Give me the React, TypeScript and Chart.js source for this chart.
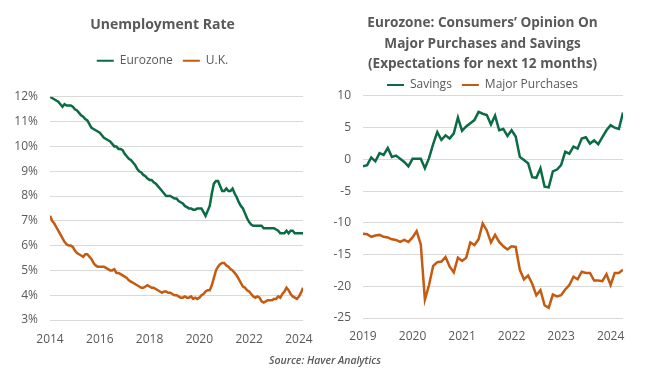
import React, { useEffect, useRef } from "react";
import { Chart, registerables } from "chart.js";

Chart.register(...registerables);

// ---------- Data ----------
// Unemployment rate, monthly Jan 2014 .. Mar 2024 (%)
const unempStartYear = 2014;
const eurozoneUnemp = [
  12.0, 11.95, 11.9, 11.85, 11.8, 11.7, 11.6, 11.7, 11.65, 11.65, 11.65, 11.6,
  11.5, 11.45, 11.35, 11.25, 11.2, 11.1, 11.05, 10.9, 10.75, 10.7, 10.65, 10.6,
  10.55, 10.45, 10.35, 10.3, 10.25, 10.2, 10.1, 10.0, 10.0, 9.9, 9.9, 9.85,
  9.7, 9.6, 9.5, 9.45, 9.35, 9.25, 9.1, 9.0, 8.95, 8.85, 8.8, 8.7,
  8.65, 8.65, 8.55, 8.5, 8.4, 8.3, 8.2, 8.1, 8.0, 8.0, 8.0, 7.95,
  7.9, 7.9, 7.8, 7.75, 7.7, 7.6, 7.55, 7.5, 7.5, 7.45, 7.45, 7.5,
  7.5, 7.5, 7.35, 7.2, 7.4, 7.6, 8.1, 8.5, 8.6, 8.6, 8.4, 8.2,
  8.2, 8.3, 8.2, 8.2, 8.3, 8.1, 7.95, 7.75, 7.6, 7.5, 7.3, 7.1,
  6.95, 6.85, 6.8, 6.8, 6.8, 6.8, 6.8, 6.7, 6.7, 6.7, 6.7, 6.7,
  6.7, 6.65, 6.6, 6.5, 6.5, 6.5, 6.6, 6.5, 6.6, 6.6, 6.5, 6.5,
  6.5, 6.5, 6.5,
];
const ukUnemp = [
  7.2, 7.0, 6.9, 6.75, 6.6, 6.45, 6.3, 6.15, 6.05, 6.0, 6.0, 5.95,
  5.8, 5.7, 5.65, 5.6, 5.55, 5.65, 5.65, 5.55, 5.45, 5.3, 5.2, 5.15,
  5.15, 5.15, 5.15, 5.1, 5.05, 5.0, 5.0, 5.05, 4.9, 4.9, 4.85, 4.8,
  4.75, 4.7, 4.6, 4.55, 4.5, 4.45, 4.4, 4.35, 4.3, 4.3, 4.35, 4.4,
  4.35, 4.3, 4.3, 4.25, 4.2, 4.15, 4.1, 4.15, 4.15, 4.1, 4.1, 4.05,
  4.0, 4.0, 3.95, 3.9, 3.9, 3.95, 3.9, 3.9, 3.95, 3.85, 3.9, 3.85,
  3.9, 4.0, 4.05, 4.15, 4.2, 4.2, 4.4, 4.7, 5.0, 5.15, 5.25, 5.3,
  5.3, 5.2, 5.15, 5.05, 5.0, 4.9, 4.8, 4.65, 4.5, 4.35, 4.3, 4.2,
  4.15, 4.05, 3.95, 3.9, 3.95, 3.9, 3.75, 3.7, 3.75, 3.8, 3.8, 3.8,
  3.85, 3.85, 3.95, 3.9, 4.05, 4.15, 4.3, 4.2, 4.05, 3.95, 3.9, 3.85,
  3.95, 4.1, 4.3,
];
const unempYearTicks = [2014, 2016, 2018, 2020, 2022, 2024];
const unempPctTicks = [3, 4, 5, 6, 7, 8, 9, 10, 11, 12];

// Consumers' opinion, monthly Jan 2019 .. Apr 2024 (balance)
const opinionStartYear = 2019;
const savings = [
  -1.1, -0.9, 0.3, -0.3, 1.0, 0.7, 1.8, 0.4, 0.6, 0.1, -0.4, -1.1,
  0.1, 0.1, 0.1, -1.4, 0.2, 2.4, 4.3, 3.1, 3.8, 3.3, 4.1, 6.6,
  4.5, 5.2, 5.7, 6.2, 7.5, 7.2, 7.0, 5.5, 6.9, 4.6, 4.8, 3.7,
  4.6, 3.6, 0.4, -0.1, -0.6, -2.8, -2.9, -1.4, -4.3, -4.4, -1.9, -1.6,
  -0.9, 1.2, 0.9, 2.0, 1.7, 3.3, 3.5, 2.5, 3.0, 2.4, 3.5, 4.6,
  5.4, 5.0, 4.8, 7.4,
];
const majorPurchases = [
  -11.7, -11.8, -12.2, -12.0, -11.9, -12.2, -12.3, -12.6, -12.7, -13.0, -12.7, -13.0,
  -12.3, -11.3, -13.4, -22.1, -19.8, -16.8, -16.2, -16.1, -15.4, -16.9, -17.8, -15.5,
  -16.0, -15.5, -13.1, -13.5, -12.6, -10.1, -11.2, -13.1, -11.9, -13.0, -13.7, -14.2,
  -13.7, -13.8, -17.4, -18.9, -18.3, -19.6, -21.4, -20.6, -23.0, -23.4, -21.3, -21.6,
  -21.4, -20.5, -19.8, -18.5, -18.9, -17.7, -17.9, -17.9, -19.1, -19.1, -19.2, -18.1,
  -19.8, -17.9, -17.9, -17.4,
];
const opinionYearTicks = [2019, 2020, 2021, 2022, 2023, 2024];

const GREEN = "#0B6B45";
const ORANGE = "#C55A11";
const TEXT = "#595959";
const GRID = "#D9D9D9";
const FONT = "'Open Sans', 'DejaVu Sans', sans-serif";

const toPoints = (start: number, vals: number[]) =>
  vals.map((v, i) => ({ x: start + i / 12, y: v }));

const legendGap = {
  id: "legendGap",
  afterInit(chart: any, _a: any, opts: any) {
    const lg = chart.legend;
    if (!lg) return;
    const orig = lg.fit.bind(lg);
    lg.fit = () => {
      orig();
      lg.height += opts.extra || 0;
    };
  },
};

function makeOptions(cfg: {
  title: string | string[];
  titleSize: number;
  titlePad: { top: number; bottom: number };
  titleLineHeight: number;
  legendExtra: number;
  xMin: number;
  xMax: number;
  xTicks: number[];
  yMin: number;
  yMax: number;
  yStep: number;
  yFmt: (v: number) => string;
  yWidth: number;
  padding: { left: number; right: number; top: number; bottom: number };
  xPad: number;
}) {
  return {
    responsive: false,
    animation: false as const,
    layout: { padding: cfg.padding },
    elements: { point: { radius: 0 }, line: { tension: 0 } },
    plugins: {
      title: {
        display: true,
        text: cfg.title,
        color: TEXT,
        font: { family: FONT, size: cfg.titleSize, weight: "bold" as const, lineHeight: cfg.titleLineHeight },
        padding: cfg.titlePad,
      },
      legend: {
        display: true,
        position: "top" as const,
        labels: {
          color: TEXT,
          font: { family: FONT, size: 12, weight: "500" as any },
          boxWidth: 17,
          boxHeight: 2,
          padding: 10,
          generateLabels: (chart: any) =>
            Chart.defaults.plugins.legend.labels
              .generateLabels(chart)
              .map((l: any) => ({ ...l, lineWidth: 0 })),
        },
      },
      legendGap: { extra: cfg.legendExtra },
      tooltip: { enabled: false },
    },
    scales: {
      x: {
        type: "linear" as const,
        min: cfg.xMin,
        max: cfg.xMax,
        grid: { display: false, drawTicks: false },
        border: { display: false },
        afterBuildTicks: (scale: any) => {
          scale.ticks = cfg.xTicks.map((v) => ({ value: v }));
        },
        ticks: {
          color: TEXT,
          font: { family: FONT, size: 12, weight: "500" as any },
          padding: cfg.xPad,
          maxRotation: 0,
          autoSkip: false,
          callback: (v: any) => String(v),
        },
      },
      y: {
        type: "linear" as const,
        min: cfg.yMin,
        max: cfg.yMax,
        afterFit: (scale: any) => {
          scale.width = cfg.yWidth;
          // let the tick labels extend into the layout padding
          scale._computeLabelArea = () => undefined;
        },
        grid: { color: GRID, lineWidth: 1, drawTicks: false },
        border: { display: false },
        ticks: {
          stepSize: cfg.yStep,
          color: TEXT,
          font: { family: FONT, size: 12, weight: "500" as any },
          padding: 12,
          callback: (v: any) => cfg.yFmt(Number(v)),
        },
      },
    },
  };
}

function LeftChart() {
  const ref = useRef<HTMLCanvasElement>(null);
  useEffect(() => {
    if (!ref.current) return;
    const chart = new Chart(ref.current, {
      type: "line",
      data: {
        datasets: [
          {
            label: "Eurozone",
            data: toPoints(unempStartYear, eurozoneUnemp),
            borderColor: GREEN,
            backgroundColor: GREEN,
            borderWidth: 2.5,
          },
          {
            label: "U.K.",
            data: toPoints(unempStartYear, ukUnemp),
            borderColor: ORANGE,
            backgroundColor: ORANGE,
            borderWidth: 2.5,
          },
        ],
      },
      options: makeOptions({
        title: "Unemployment Rate",
        titleSize: 14,
        titlePad: { top: 17, bottom: 11 },
        titleLineHeight: 1.2,
        legendExtra: 20,
        xMin: unempStartYear,
        xMax: unempStartYear + (eurozoneUnemp.length - 1) / 12,
        xTicks: unempYearTicks,
        yMin: unempPctTicks[0],
        yMax: unempPctTicks[unempPctTicks.length - 1],
        yStep: 1,
        yFmt: (v) => v + "%",
        yWidth: 30,
        padding: { left: 20, right: 20, top: 0, bottom: 18.6 },
        xPad: 12,
      }) as any,
      plugins: [legendGap],
    });
    return () => chart.destroy();
  }, []);
  return <canvas ref={ref} width={325} height={377} style={{ display: "block" }} />;
}

function RightChart() {
  const ref = useRef<HTMLCanvasElement>(null);
  useEffect(() => {
    if (!ref.current) return;
    const chart = new Chart(ref.current, {
      type: "line",
      data: {
        datasets: [
          {
            label: "Savings",
            data: toPoints(opinionStartYear, savings),
            borderColor: GREEN,
            backgroundColor: GREEN,
            borderWidth: 2.5,
          },
          {
            label: "Major Purchases",
            data: toPoints(opinionStartYear, majorPurchases),
            borderColor: ORANGE,
            backgroundColor: ORANGE,
            borderWidth: 2.5,
          },
        ],
      },
      options: makeOptions({
        title: [
          "Eurozone: Consumers’ Opinion On",
          "Major Purchases and Savings",
          "(Expectations for next 12 months)",
        ],
        titleSize: 13.6,
        titlePad: { top: 13.25, bottom: -5.75 },
        titleLineHeight: 1.507,
        legendExtra: -5,
        xMin: opinionStartYear,
        xMax: opinionStartYear + (savings.length - 1) / 12,
        xTicks: opinionYearTicks,
        yMin: -25,
        yMax: 10,
        yStep: 5,
        yFmt: (v) => String(v),
        yWidth: 21,
        padding: { left: 25, right: 25, top: 0, bottom: 22.6 },
        xPad: 11,
      }) as any,
      plugins: [legendGap],
    });
    return () => chart.destroy();
  }, []);
  return <canvas ref={ref} width={331} height={377} style={{ display: "block" }} />;
}

export default function App() {
  return (
    <div
      style={{
        position: "fixed",
        left: 0,
        top: 0,
        width: 651,
        height: 377,
        background: "#ffffff",
        overflow: "hidden",
      }}
    >
      <div style={{ position: "absolute", left: 0, top: 0 }}>
        <LeftChart />
      </div>
      <div style={{ position: "absolute", left: 317, top: 0 }}>
        <RightChart />
      </div>
      <div
        style={{
          position: "absolute",
          left: 269,
          top: 352,
          fontFamily: FONT,
          fontSize: 10.5,
          fontStyle: "italic",
          fontWeight: 600,
          color: TEXT,
          whiteSpace: "nowrap",
          lineHeight: "16px",
        }}
      >
        Source: Haver Analytics
      </div>
    </div>
  );
}
